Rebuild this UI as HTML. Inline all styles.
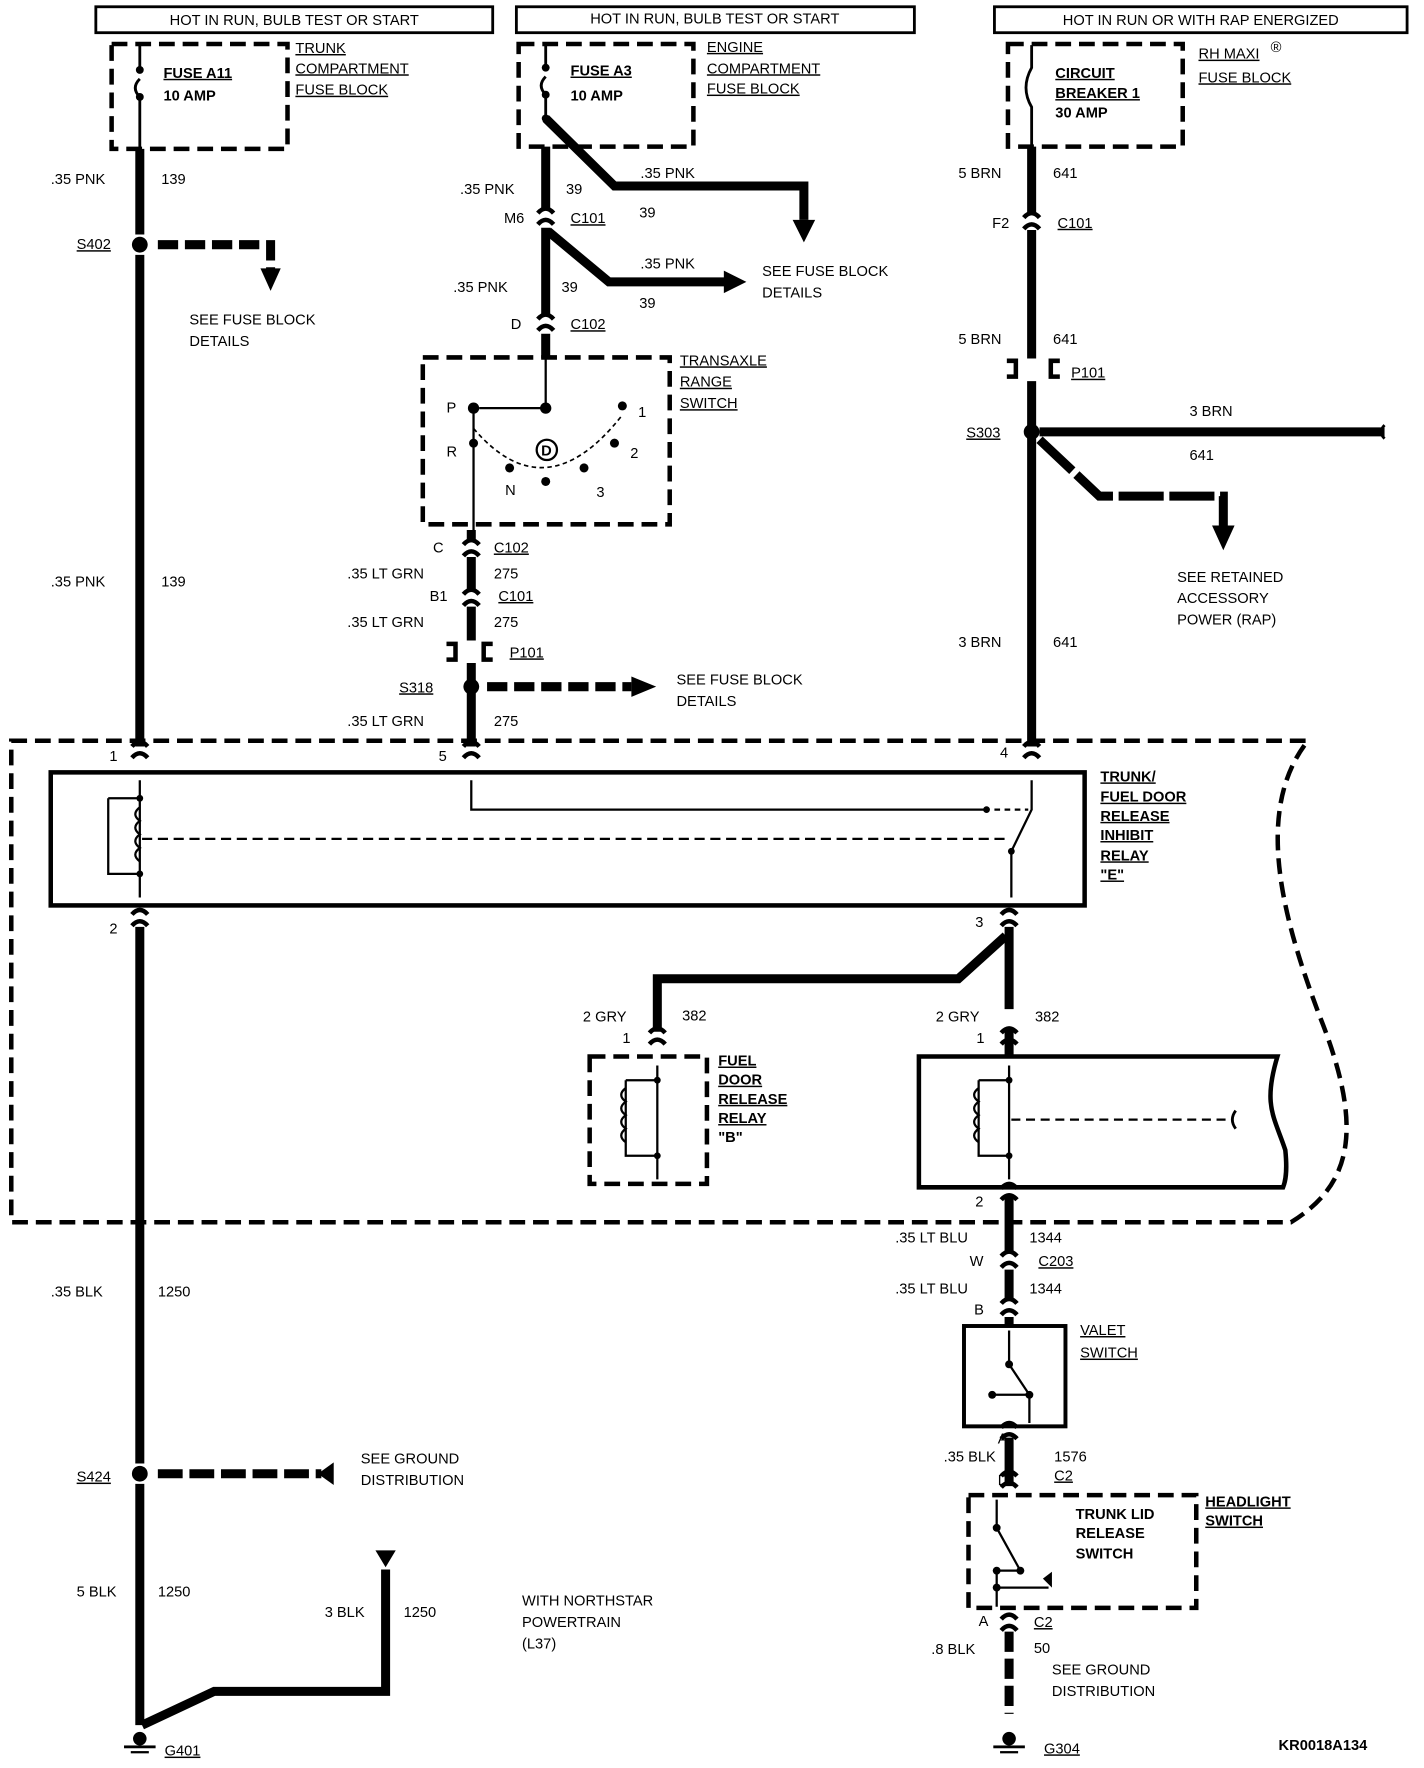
<!DOCTYPE html>
<html><head><meta charset="utf-8"><style>
html,body{margin:0;padding:0;background:#fff}
svg{display:block}
text{font-family:"Liberation Sans",sans-serif;font-size:13px;fill:#000}
.b{font-weight:bold}
.u{text-decoration:underline}
</style></head><body>
<svg width="1424" height="1768" viewBox="0 0 1263 1568" preserveAspectRatio="none" xmlns="http://www.w3.org/2000/svg">
<defs>
<g id="cn"><path d="M-7,-4 Q0,-12 7,-4" fill="none" stroke="#000" stroke-width="4"/><path d="M-7,6 Q0,-2 7,6" fill="none" stroke="#000" stroke-width="4"/></g>
<g id="dot"><circle r="7" fill="#000"/></g>
</defs>
<g fill="none" stroke="#000">
<!-- headers -->
<rect x="85" y="6" width="352" height="23" stroke-width="2.5"/>
<rect x="458" y="6" width="353" height="23" stroke-width="2.5"/>
<rect x="882" y="6" width="366" height="23" stroke-width="2.5"/>
<!-- fuse boxes -->
<g stroke-width="4" stroke-dasharray="14,7">
<rect x="99" y="39" width="156" height="93"/>
<rect x="460" y="39" width="155" height="91"/>
<rect x="894" y="39" width="155" height="91"/>
<rect x="375" y="317" width="219" height="148"/>
<rect x="523" y="937" width="104" height="113"/>
<rect x="859" y="1326" width="202" height="100"/>
<path d="M10,657 H1160 C1110,720 1140,820 1170,900 C1210,1000 1200,1050 1145,1084 H10 Z"/>
</g>
<!-- fuses -->
<path d="M124,40 V60 M124,70 q-8,8 0,16 M124,86 V132" stroke-width="2.5"/>
<path d="M484,40 V58 M484,68 q-8,8 0,16 M484,84 V105" stroke-width="2.5"/>
<path d="M915,40 V60 Q905,78 915,95 V130" stroke-width="2.5"/>
<!-- wire 1 -->
<path d="M124,132 V208 M124,226 V662 M124,822 V1298 M124,1316 V1530" stroke-width="8"/>
<path d="M140,217 H240 V240" stroke-width="8" stroke-dasharray="18,6"/>
<path d="M140,1307 H285" stroke-width="8" stroke-dasharray="22,6"/>
<path d="M342,1392 V1500 H190 L126,1530" stroke-width="8"/>
<!-- wire 2 -->
<path d="M484,130 V186 M484,202 V280 M484,296 V318" stroke-width="8"/>
<path d="M484,105 L545,165 H713 V195" stroke-width="8"/>
<path d="M486,205 L540,250 H645" stroke-width="8"/>
<path d="M484,318 V362 H425 M420,362 V470" stroke-width="2"/>
<path d="M418,470 V480 M418,494 V524 M418,538 V568 M418,588 V662" stroke-width="8"/>
<path d="M432,609 H560" stroke-width="8" stroke-dasharray="18,6"/>
<!-- wire 3 -->
<path d="M915,130 V190 M915,204 V318 M915,338 V662" stroke-width="8"/>
<path d="M922,383 H1228" stroke-width="8"/>
<path d="M922,390 L975,440 H1085 V468" stroke-width="8" stroke-dasharray="40,5"/>
<path d="M1228,377 q-6,6 0,12" stroke-width="2.5"/>
<!-- relay E -->
<rect x="45" y="685" width="917" height="118" stroke-width="4"/>
<path d="M124,692 V796 M96,708 H124 M96,708 V775 H124" stroke-width="2"/>
<path d="M124,716 q-8,6 0,12 q-8,6 0,12 q-8,6 0,12 q-8,6 0,12" stroke-width="2"/>
<path d="M126,744 H895" stroke-width="2" stroke-dasharray="9,5"/>
<path d="M418,692 V718 H875 M915,692 V718 L897,755 V796" stroke-width="2"/>
<path d="M882,718 H912" stroke-width="2" stroke-dasharray="5,4"/>
<!-- lower -->
<path d="M895,822 V895 M895,912 V937" stroke-width="8"/>
<path d="M892,830 L850,868 H583 V915" stroke-width="8"/>
<path d="M583,945 V1046 M555,958 H583 M555,958 V1025 H583" stroke-width="2"/>
<path d="M555,965 q-8,6 0,12 q-8,6 0,12 q-8,6 0,12 q-8,6 0,12" stroke-width="2"/>
<path d="M815,1053 V937 H1133 C1120,980 1130,990 1140,1020 C1142,1040 1140,1048 1138,1053 Z" stroke-width="4"/>
<path d="M895,945 V1046 M868,958 H895 M868,958 V1025 H895" stroke-width="2"/>
<path d="M868,965 q-8,6 0,12 q-8,6 0,12 q-8,6 0,12 q-8,6 0,12" stroke-width="2"/>
<path d="M897,993 H1090" stroke-width="2" stroke-dasharray="8,5"/>
<path d="M1096,985 q-6,8 0,16" stroke-width="2.5"/>
<path d="M895,1062 V1110 M895,1126 V1152 M895,1168 V1176" stroke-width="8"/>
<rect x="855" y="1176" width="90" height="89" stroke-width="3.5"/>
<path d="M895,1180 V1210 L913,1237 V1262 M880,1237 H913" stroke-width="2"/>
<path d="M895,1275 V1318" stroke-width="8"/>
<path d="M884,1330 V1355 L905,1393 M884,1393 V1425 M884,1393 H905 M884,1408 H930" stroke-width="2"/>
<path d="M895,1447 V1520" stroke-width="8" stroke-dasharray="18,6"/>
</g>
<!-- connectors -->
<use href="#cn" x="484" y="193"/><use href="#cn" x="484" y="287"/>
<use href="#cn" x="418" y="487"/><use href="#cn" x="418" y="531"/>
<use href="#cn" x="915" y="197"/>
<use href="#cn" x="124" y="666"/><use href="#cn" x="418" y="666"/><use href="#cn" x="915" y="666"/>
<use href="#cn" x="124" y="815"/><use href="#cn" x="895" y="815"/>
<use href="#cn" x="583" y="920"/><use href="#cn" x="895" y="920"/>
<use href="#cn" x="895" y="1058"/><use href="#cn" x="895" y="1118"/><use href="#cn" x="895" y="1160"/>
<use href="#cn" x="895" y="1270"/><use href="#cn" x="895" y="1313"/><use href="#cn" x="895" y="1440"/>
<g fill="none" stroke="#000" stroke-width="4"><path d="M396,571 h8 v14 h-8 M437,571 h-8 v14 h8"/><path d="M893,320 h8 v14 h-8 M940,320 h-8 v14 h8"/></g>
<!-- dots -->
<use href="#dot" x="124" y="217"/><use href="#dot" x="418" y="609"/><use href="#dot" x="915" y="383"/><use href="#dot" x="124" y="1307"/>
<g fill="#000">
<circle cx="124" cy="62" r="3.5"/><circle cx="124" cy="86" r="3.5"/><circle cx="484" cy="60" r="3.5"/><circle cx="484" cy="84" r="3.5"/><circle cx="484" cy="105" r="3.5"/>
<circle cx="484" cy="362" r="5"/><circle cx="420" cy="362" r="5"/><circle cx="552" cy="360" r="4"/>
<circle cx="420" cy="393" r="4"/><circle cx="452" cy="415" r="4"/><circle cx="484" cy="427" r="4"/><circle cx="518" cy="415" r="4"/><circle cx="545" cy="393" r="4"/>
<circle cx="124" cy="708" r="3"/><circle cx="124" cy="775" r="3"/><circle cx="875" cy="718" r="3"/><circle cx="897" cy="755" r="3"/>
<circle cx="583" cy="958" r="3"/><circle cx="583" cy="1025" r="3"/><circle cx="895" cy="958" r="3"/><circle cx="895" cy="1025" r="3"/>
<circle cx="895" cy="1210" r="3.5"/><circle cx="913" cy="1237" r="3.5"/><circle cx="880" cy="1237" r="3.5"/>
<circle cx="884" cy="1355" r="3.5"/><circle cx="905" cy="1393" r="3.5"/><circle cx="884" cy="1393" r="3.5"/><circle cx="884" cy="1408" r="3.5"/>
<!-- arrows -->
<path d="M231,238 h18 l-9,20 z"/><path d="M703,195 h20 l-10,20 z"/><path d="M642,240 v20 l20,-10 z"/><path d="M560,600 v18 l22,-9 z"/>
<path d="M1075,466 h20 l-10,22 z"/><path d="M296,1297 v20 l-14,-10 z"/><path d="M333,1375 h18 l-9,15 z"/>
<path d="M925,1400 l8,-6 v14 z"/>
<!-- grounds -->
<circle cx="124" cy="1542" r="6"/><rect x="110" y="1548" width="28" height="2.5"/><rect x="116" y="1553" width="16" height="2"/>
<circle cx="895" cy="1542" r="6"/><rect x="881" y="1548" width="28" height="2.5"/><rect x="887" y="1553" width="16" height="2"/>
</g>
<circle cx="485" cy="399" r="9" fill="none" stroke="#000" stroke-width="2"/>
<g fill="none" stroke="#000" stroke-width="1.5" stroke-dasharray="4,3"><path d="M420,380 Q484,455 552,368"/></g>
<!-- texts -->
<text x="261" y="22" text-anchor="middle">HOT IN RUN,  BULB TEST OR START</text>
<text x="634" y="21" text-anchor="middle">HOT IN RUN,  BULB TEST OR START</text>
<text x="1065" y="22" text-anchor="middle">HOT IN RUN OR WITH RAP ENERGIZED</text>
<text x="145" y="69" class="b u">FUSE A11</text><text x="145" y="89" class="b">10 AMP</text>
<text x="262" y="47" class="u">TRUNK</text><text x="262" y="65" class="u">COMPARTMENT</text><text x="262" y="84" class="u">FUSE BLOCK</text>
<text x="506" y="67" class="b u">FUSE A3</text><text x="506" y="89" class="b">10 AMP</text>
<text x="627" y="46" class="u">ENGINE</text><text x="627" y="65" class="u">COMPARTMENT</text><text x="627" y="83" class="u">FUSE BLOCK</text>
<text x="936" y="69" class="b u">CIRCUIT</text><text x="936" y="87" class="b u">BREAKER 1</text><text x="936" y="104" class="b">30 AMP</text>
<text x="1063" y="52" class="u">RH MAXI</text><text x="1127" y="46" font-size="10">®</text><text x="1063" y="73" class="u">FUSE BLOCK</text>
<text x="45" y="163">.35 PNK</text><text x="143" y="163">139</text>
<text x="68" y="221" class="u">S402</text>
<text x="168" y="288">SEE FUSE BLOCK</text><text x="168" y="307">DETAILS</text>
<text x="408" y="172">.35 PNK</text><text x="502" y="172">39</text><text x="568" y="158">.35 PNK</text><text x="567" y="193">39</text>
<text x="447" y="198">M6</text><text x="506" y="198" class="u">C101</text>
<text x="568" y="238">.35 PNK</text><text x="567" y="273">39</text><text x="676" y="245">SEE FUSE BLOCK</text><text x="676" y="264">DETAILS</text>
<text x="402" y="259">.35 PNK</text><text x="498" y="259">39</text>
<text x="453" y="292">D</text><text x="506" y="292" class="u">C102</text>
<text x="603" y="324" class="u">TRANSAXLE</text><text x="603" y="343" class="u">RANGE</text><text x="603" y="362" class="u">SWITCH</text>
<text x="396" y="366" font-size="12">P</text><text x="396" y="405" font-size="12">R</text><text x="448" y="439" font-size="12">N</text><text x="529" y="441" font-size="12">3</text><text x="559" y="406" font-size="12">2</text><text x="566" y="370" font-size="12">1</text>
<text x="480" y="404" font-size="12" class="b">D</text>
<text x="45" y="520">.35 PNK</text><text x="143" y="520">139</text>
<text x="384" y="490">C</text><text x="438" y="490" class="u">C102</text>
<text x="308" y="513">.35 LT GRN</text><text x="438" y="513">275</text>
<text x="381" y="533">B1</text><text x="442" y="533" class="u">C101</text>
<text x="308" y="556">.35 LT GRN</text><text x="438" y="556">275</text>
<text x="452" y="583" class="u">P101</text>
<text x="354" y="614" class="u">S318</text>
<text x="600" y="607">SEE FUSE BLOCK</text><text x="600" y="626">DETAILS</text>
<text x="308" y="644">.35 LT GRN</text><text x="438" y="644">275</text>
<text x="850" y="158">5 BRN</text><text x="934" y="158">641</text>
<text x="880" y="202">F2</text><text x="938" y="202" class="u">C101</text>
<text x="850" y="305">5 BRN</text><text x="934" y="305">641</text><text x="950" y="335" class="u">P101</text>
<text x="857" y="388" class="u">S303</text><text x="1055" y="369">3 BRN</text><text x="1055" y="408">641</text>
<text x="1044" y="516">SEE RETAINED</text><text x="1044" y="535">ACCESSORY</text><text x="1044" y="554">POWER (RAP)</text>
<text x="850" y="574">3 BRN</text><text x="934" y="574">641</text>
<text x="97" y="675" font-size="11">1</text><text x="389" y="675" font-size="11">5</text><text x="887" y="672" font-size="11">4</text>
<text x="976" y="693" class="b u">TRUNK/</text><text x="976" y="711" class="b u">FUEL DOOR</text><text x="976" y="728" class="b u">RELEASE</text><text x="976" y="745" class="b u">INHIBIT</text><text x="976" y="763" class="b u">RELAY</text><text x="976" y="780" class="b u">"E"</text>
<text x="97" y="828" font-size="11">2</text><text x="865" y="822" font-size="11">3</text>
<text x="517" y="906">2 GRY</text><text x="605" y="905">382</text><text x="552" y="925" font-size="11">1</text>
<text x="830" y="906">2 GRY</text><text x="918" y="906">382</text><text x="866" y="925" font-size="11">1</text>
<text x="637" y="945" class="b u">FUEL</text><text x="637" y="962" class="b u">DOOR</text><text x="637" y="979" class="b u">RELEASE</text><text x="637" y="996" class="b u">RELAY</text><text x="637" y="1013" class="b">"B"</text>
<text x="865" y="1070" font-size="11">2</text>
<text x="794" y="1102">.35 LT BLU</text><text x="913" y="1102">1344</text>
<text x="860" y="1123">W</text><text x="921" y="1123" class="u">C203</text>
<text x="794" y="1147">.35 LT BLU</text><text x="913" y="1147">1344</text>
<text x="864" y="1166">B</text>
<text x="958" y="1184" class="u">VALET</text><text x="958" y="1204" class="u">SWITCH</text>
<text x="885" y="1280" font-size="12">A</text>
<text x="45" y="1150">.35 BLK</text><text x="140" y="1150">1250</text>
<text x="837" y="1296">.35 BLK</text><text x="935" y="1296">1576</text>
<text x="885" y="1317">D</text><text x="935" y="1313" class="u">C2</text>
<text x="954" y="1347" class="b">TRUNK LID</text><text x="954" y="1364" class="b">RELEASE</text><text x="954" y="1382" class="b">SWITCH</text>
<text x="1069" y="1336" class="b u">HEADLIGHT</text><text x="1069" y="1353" class="b u">SWITCH</text>
<text x="868" y="1442" font-size="12">A</text><text x="917" y="1443" class="u">C2</text>
<text x="826" y="1467">.8 BLK</text><text x="917" y="1466">50</text>
<text x="933" y="1485">SEE GROUND</text><text x="933" y="1504">DISTRIBUTION</text>
<text x="68" y="1314" class="u">S424</text>
<text x="320" y="1298">SEE GROUND</text><text x="320" y="1317">DISTRIBUTION</text>
<text x="68" y="1416">5 BLK</text><text x="140" y="1416">1250</text>
<text x="288" y="1434">3 BLK</text><text x="358" y="1434">1250</text>
<text x="463" y="1424">WITH NORTHSTAR</text><text x="463" y="1443">POWERTRAIN</text><text x="463" y="1462">(L37)</text>
<text x="146" y="1557" class="u">G401</text><text x="926" y="1555" class="u">G304</text>
<text x="1134" y="1552" class="b" font-size="16">KR0018A134</text>
</svg>
</body></html>
